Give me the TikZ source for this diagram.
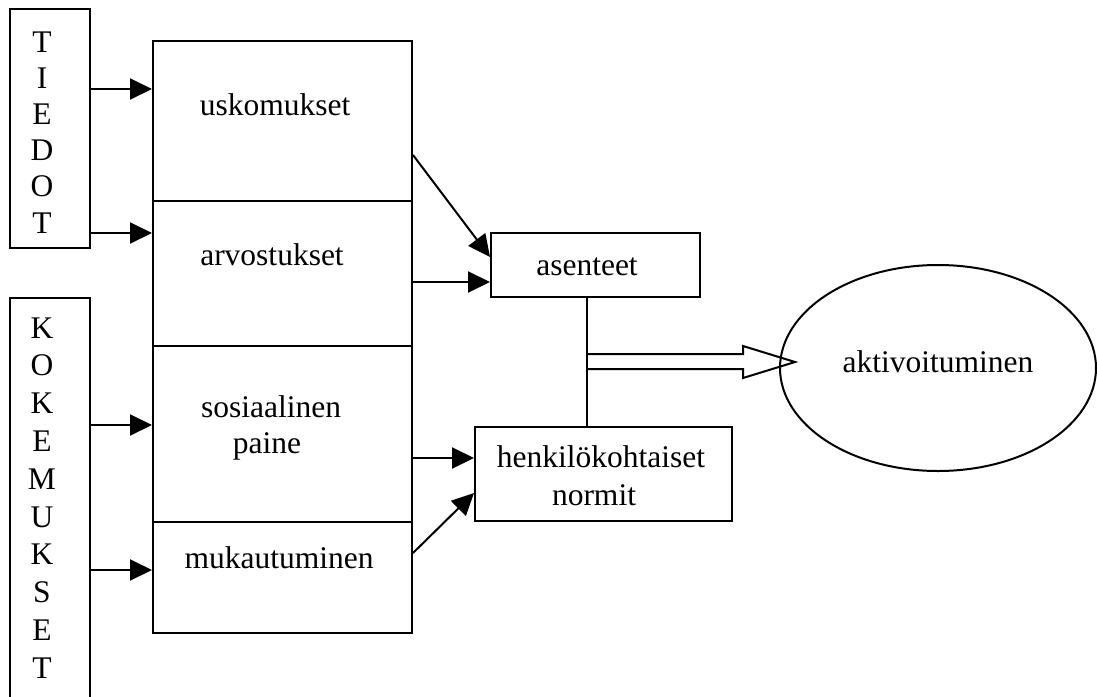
\documentclass[tikz,border=0pt]{standalone}
\usepackage{fontspec}
\setmainfont{Liberation Serif}
\usetikzlibrary{arrows.meta,shapes.geometric}

\tikzset{
  box/.style={draw, line width=2pt, rectangle, inner sep=0pt, fill=none},
  lbl/.style={inner sep=0pt, anchor=base, font=\fontsize{31.5}{36}\selectfont},
  arr/.style={line width=2pt, -{Triangle[length=22pt,width=21pt]}},
  conn/.style={line width=2pt},
}

\begin{document}
\begin{tikzpicture}[x=1pt,y=-1pt]
\useasboundingbox (0,0) rectangle (1097,696);
\fill[white] (0,0) rectangle (1097,696);

% source columns
\node[box, minimum width=80pt, minimum height=239pt] (tiedot) at (50,128.5) {};
\node[box, minimum width=80pt, minimum height=422pt] (kokem) at (50,509) {};
\foreach \ch [count=\i] in {T,I,E,D,O,T}
  \node[lbl] (td\i) at (42,{52+36.2*(\i-1)}) {\ch};
\foreach \ch [count=\i] in {K,O,K,E,M,U,K,S,E,T}
  \node[lbl] (kk\i) at (42,{338+37.8*(\i-1)}) {\ch};

% stacked middle column
\node[box, minimum width=259pt, minimum height=160pt] (usk) at (282.5,121) {};
\node[box, minimum width=259pt, minimum height=145pt] (arv) at (282.5,273.5) {};
\node[box, minimum width=259pt, minimum height=176pt] (sos) at (282.5,434) {};
\node[box, minimum width=259pt, minimum height=111pt] (muk) at (282.5,577.5) {};
\node[lbl] (uskt) at (275,115) {uskomukset};
\node[lbl] (arvt) at (272,265) {arvostukset};
\node[lbl] (sost1) at (271,417) {sosiaalinen};
\node[lbl] (sost2) at (267,453) {paine};
\node[lbl] (mukt) at (279,568) {mukautuminen};

% attitudes and personal norms
\node[box, minimum width=209pt, minimum height=64pt] (ase) at (595.5,265) {};
\node[lbl] (aset) at (587,275) {asenteet};
\node[box, minimum width=257pt, minimum height=94pt] (henk) at (603.5,474) {};
\node[lbl] (henkt1) at (601,467) {henkilökohtaiset};
\node[lbl] (henkt2) at (594,505) {normit};

% outcome
\node[draw, ellipse, line width=2pt, inner sep=0pt,
      minimum width=316pt, minimum height=206pt] (akt) at (938,368) {};
\node[lbl] (aktt) at (938,372) {aktivoituminen};

% inputs to the middle column
\draw[arr] (tiedot.east |- 0,89) -- (usk.west |- 0,89);
\draw[arr] (tiedot.east |- 0,233) -- (arv.west |- 0,233);
\draw[arr] (kokem.east |- 0,425) -- (sos.west |- 0,425);
\draw[arr] (kokem.east |- 0,570) -- (muk.west |- 0,570);

% middle column to attitudes and norms
\draw[arr] (usk.east |- 0,155) -- (ase.west |- 0,257);
\draw[arr] (arv.east |- 0,282) -- (ase.west |- 0,282);
\draw[arr] (sos.east |- 0,458) -- (henk.west |- 0,458);
\draw[arr] (muk.east |- 0,553) -- (henk.west |- 0,493);

% joint line and hollow arrow to the outcome
\coordinate (jtop) at (ase.south -| 587,0);
\coordinate (jbot) at (henk.north -| 587,0);
\draw[conn] (jtop) -- (jbot);
\coordinate (tip) at (795,362);
\draw[conn, line join=miter] (587,354) -- (743,354) -- (743,346) -- (tip)
  -- (743,378) -- (743,369) -- (587,369);
\end{tikzpicture}
\end{document}
